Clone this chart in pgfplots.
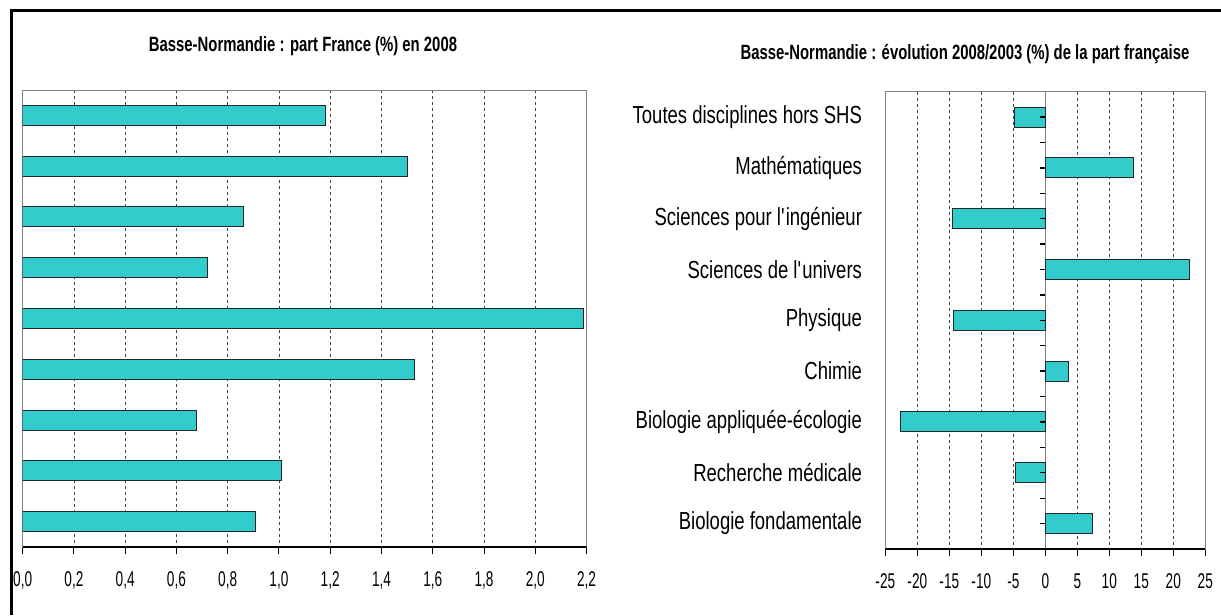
\documentclass[border=0pt]{standalone}
\usepackage{fontspec}
\setmainfont{Liberation Sans}[FakeStretch=0.82]
\newfontfamily\tickfont{Liberation Sans}[FakeStretch=0.64]
\newfontfamily\catfont{Liberation Sans}[FakeStretch=0.75]
\newfontfamily\titlefont{Liberation Sans}[FakeStretch=0.72]
\usepackage{pgfplots}
\pgfplotsset{compat=1.18}
\definecolor{barfill}{HTML}{33CCCC}
\definecolor{framegray}{HTML}{808080}

\pgfplotstableread{
c v
1 1.18
2 1.50
3 0.86
4 0.72
5 2.19
6 1.53
7 0.68
8 1.01
9 0.91
}\leftdata

\pgfplotstableread{
c v
1 -4.80
2 13.75
3 -14.55
4 22.50
5 -14.40
6 3.55
7 -22.60
8 -4.65
9 7.35
}\rightdata

\pgfplotsset{
  chartbase/.style={
    scale only axis, anchor=south west,
    ymin=0.5, ymax=9.5, y dir=reverse,
    xmajorgrids,
    major grid style={black!75, line width=0.6pt, dash pattern=on 2.25pt off 2.25pt},
    axis line style={framegray, line width=0.75pt},
    tick align=outside, xtick pos=lower,
    major tick length=5pt,
    xtick style={black, line width=0.75pt},
    xticklabel style={font=\tickfont\fontsize{16}{18}\selectfont, yshift=-10pt},
    xbar, bar width=15pt,
  }
}

\begin{document}
\begin{tikzpicture}
\useasboundingbox (0,0) rectangle (915.75pt,461.25pt);
\fill[white] (0,0) rectangle (915.75pt,461.25pt);
\draw[black, line width=2.25pt] (8.6pt,0) -- (8.6pt,453.4pt) -- (915.75pt,453.4pt);

\node[font=\titlefont\bfseries\fontsize{15.5}{18}\selectfont] at (227.25pt,426.75pt) {Basse-Normandie : part France (\%) en 2008};
\node[font=\titlefont\bfseries\fontsize{15.5}{18}\selectfont] at (723.75pt,420.75pt) {Basse-Normandie : évolution 2008/2003 (\%) de la part française};

\begin{axis}[chartbase,
  at={(17pt,51pt)}, width=422.9pt, height=342.75pt,
  xmin=0, xmax=2.2,
  xtick={0,0.2,0.4,0.6,0.8,1,1.2,1.4,1.6,1.8,2,2.2},
  xticklabels={{0,0},{0,2},{0,4},{0,6},{0,8},{1,0},{1,2},{1,4},{1,6},{1,8},{2,0},{2,2}},
  ytick=\empty,
]
\addplot[fill=barfill, draw=black!85, line width=0.75pt] table[x=v, y=c] {\leftdata};
\draw[black, line width=0.9pt] (axis cs:0,9.5) -- (axis cs:2.2,9.5);
\end{axis}

\begin{axis}[chartbase,
  at={(664pt,49.5pt)}, width=240pt, height=343pt,
  xmin=-25, xmax=25,
  xtick={-25,-20,-15,-10,-5,0,5,10,15,20,25},
  xticklabels={-25,-20,-15,-10,-5,0,5,10,15,20,25},
  ytick={1,2,3,4,5,6,7,8,9},
  yticklabels={Toutes disciplines hors SHS, Mathématiques, Sciences pour l\textquotesingle ingénieur, Sciences de l\textquotesingle univers, Physique, Chimie, Biologie appliquée-écologie, Recherche médicale, Biologie fondamentale},
  ytick style={draw=none},
  yticklabel style={font=\catfont\fontsize{18.5}{21}\selectfont, xshift=-9pt},
]
\draw[framegray, line width=0.75pt] (axis cs:0,0.5) -- (axis cs:0,9.5);
\addplot[fill=barfill, draw=black!85, line width=0.75pt] table[x=v, y=c] {\rightdata};
\pgfplotsinvokeforeach{1,1.5,2,2.5,3,3.5,4,4.5,5,5.5,6,6.5,7,7.5,8,8.5,9}{
  \draw[black, line width=1pt] (axis cs:0,#1) -- ([xshift=-4.3pt]axis cs:0,#1);
}
\draw[black, line width=0.9pt] (axis cs:-25,9.5) -- (axis cs:25,9.5);
\end{axis}
\end{tikzpicture}
\end{document}
